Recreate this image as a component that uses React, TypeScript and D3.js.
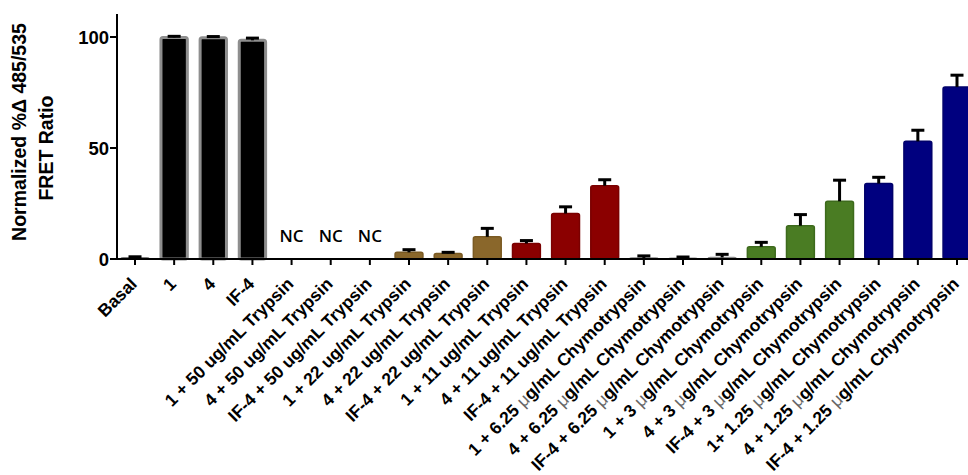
import React from "react";
import * as d3 from "d3";

const categories = [
  "Basal",
  "1",
  "4",
  "IF-4",
  "1 + 50 ug/mL Trypsin",
  "4 + 50 ug/mL Trypsin",
  "IF-4 + 50 ug/mL Trypsin",
  "1 + 22 ug/mL Trypsin",
  "4 + 22 ug/mL Trypsin",
  "IF-4 + 22 ug/mL Trypsin",
  "1 + 11 ug/mL Trypsin",
  "4 + 11 ug/mL Trypsin",
  "IF-4 + 11 ug/mL Trypsin",
  "1 + 6.25 μg/mL Chymotrypsin",
  "4 + 6.25 μg/mL Chymotrypsin",
  "IF-4 + 6.25 μg/mL Chymotrypsin",
  "1 + 3 μg/mL Chymotrypsin",
  "4 + 3 μg/mL Chymotrypsin",
  "IF-4 + 3 μg/mL Chymotrypsin",
  "1+ 1.25 μg/mL Chymotrypsin",
  "4 + 1.25 μg/mL Chymotrypsin",
  "IF-4 + 1.25 μg/mL Chymotrypsin",
];

// null = not changed (NC)
const values = [0.4, 99.8, 99.7, 98.5, null, null, null, 3, 2.5, 10, 7, 20.5, 33, 0.4, 0.3, 0.7, 5.5, 15, 26, 34, 53, 77.5];
const errors = [0.6, 0.5, 0.5, 1, 0, 0, 0, 1.2, 0.5, 3.8, 1.3, 3, 2.7, 1, 0.6, 1.4, 2, 5, 9.5, 2.8, 5, 5.3];
const groups = ["basal", "cmpd", "cmpd", "cmpd", "t50", "t50", "t50", "t22", "t22", "t22", "t11", "t11", "t11", "c625", "c625", "c625", "c3", "c3", "c3", "c125", "c125", "c125"];

const groupKeys = ["basal", "cmpd", "t50", "t22", "t11", "c625", "c3", "c125"];
const groupFill = ["#000000", "#000000", "#000000", "#8a672b", "#8b0000", "#3c3c3c", "#4a7c23", "#00007f"];
const groupStroke = ["#555555", "#8e8e8e", "#8e8e8e", "#7a5a22", "#7a0000", "#8a8a8a", "#3d6a1c", "#00006a"];

const yTicks = [0, 50, 100];

const W = 968;
const H = 475;
const font = "'Liberation Sans', Arial, Helvetica, sans-serif";

export default function App() {
  const x = d3
    .scaleBand<string>()
    .domain(categories)
    .range([117, 975])
    .paddingInner(0.25)
    .paddingOuter(0.085);
  const y = d3.scaleLinear().domain([0, 110]).range([259, 14.8]);
  const fill = d3.scaleOrdinal<string, string>().domain(groupKeys).range(groupFill);
  const stroke = d3.scaleOrdinal<string, string>().domain(groupKeys).range(groupStroke);
  const bw = x.bandwidth();
  const y0 = y(0);

  const renderLabel = (s: string) => {
    const parts = s.split("μ");
    if (parts.length === 1) return s;
    return (
      <>
        {parts[0]}
        <tspan fontWeight="normal" fill="#666">μ</tspan>
        {parts[1]}
      </>
    );
  };

  return (
    <svg
      width={W}
      height={H}
      style={{ position: "absolute", left: 0, top: 0, background: "#fff" }}
      fontFamily={font}
    >
      {/* bars */}
      {categories.map((c, i) => {
        const v = values[i];
        const cx = (x(c) as number) + bw / 2;
        if (v === null) {
          return (
            <text key={c} x={cx} y={242} textAnchor="middle" fontSize={17} fontFamily="'Open Sans', sans-serif" fontWeight={600}>
              NC
            </text>
          );
        }
        const top = y(v);
        const et = y(v + errors[i]);
        const g = groups[i];
        const thick = g === "cmpd";
        return (
          <g key={c}>
            <rect
              x={(x(c) as number) + (thick ? 1.5 : 0.75)}
              y={top}
              width={bw - (thick ? 3 : 1.5)}
              height={Math.max(y0 - top, 1)}
              fill={fill(g)}
              stroke={stroke(g)}
              strokeWidth={thick ? 3 : 1.5}
              rx={2}
            />
            <line x1={cx} x2={cx} y1={top} y2={et} stroke="#000" strokeWidth={3} />
            <line x1={cx - 6.5} x2={cx + 6.5} y1={et} y2={et} stroke="#000" strokeWidth={3} />
          </g>
        );
      })}

      {/* y axis */}
      <line x1={117} x2={117} y1={14} y2={y0} stroke="#000" strokeWidth={2} />
      {yTicks.map((t) => (
        <g key={t}>
          <line x1={110} x2={117} y1={y(t)} y2={y(t)} stroke="#000" strokeWidth={2} />
          <text x={109} y={y(t)} dy="0.36em" textAnchor="end" fontSize={18.5} fontWeight="bold">
            {t}
          </text>
        </g>
      ))}

      {/* x axis */}
      <line x1={116} x2={968} y1={y0} y2={y0} stroke="#000" strokeWidth={2} />
      {categories.map((c) => {
        const cx = (x(c) as number) + bw / 2;
        return (
          <g key={c}>
            <line x1={cx} x2={cx} y1={y0} y2={y0 + 6} stroke="#000" strokeWidth={2} />
            <text
              transform={`translate(${cx + 3},${285}) rotate(-45)`}
              textAnchor="end"
              fontSize={17.5}
              fontWeight="bold"
            >
              {renderLabel(c)}
            </text>
          </g>
        );
      })}

      {/* y title */}
      <text transform="translate(26,132) rotate(-90)" textAnchor="middle" fontSize={19.5} fontWeight="bold">
        Normalized %Δ 485/535
      </text>
      <text transform="translate(53,148) rotate(-90)" textAnchor="middle" fontSize={19.5} fontWeight="bold">
        FRET Ratio
      </text>
    </svg>
  );
}
